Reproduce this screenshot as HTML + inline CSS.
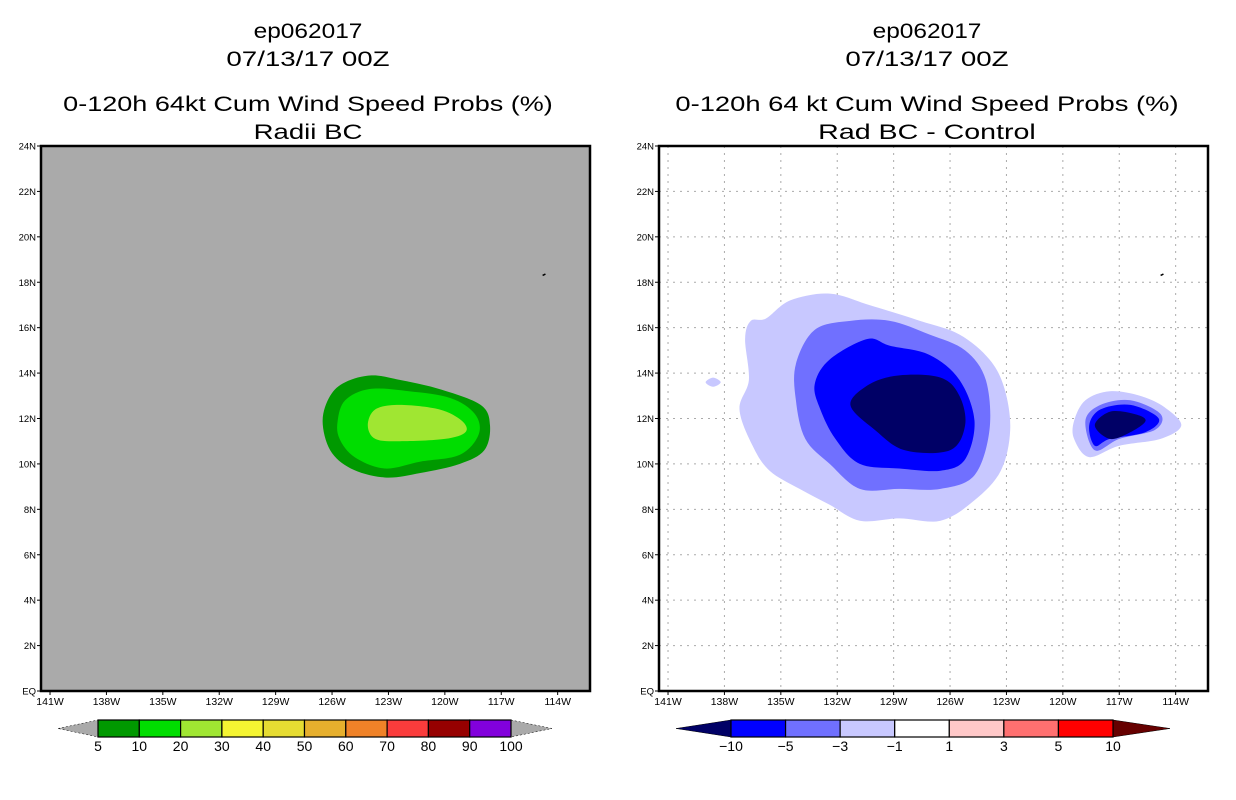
<!DOCTYPE html>
<html><head><meta charset="utf-8"><style>
html,body{margin:0;padding:0;background:#fff;}
svg{display:block;font-family:"Liberation Sans",sans-serif;}
</style></head><body>
<svg id="fig" width="1236" height="800" viewBox="0 0 1236 800"></svg>
<script>
// ---- data ----
const lonTicks = [-141,-138,-135,-132,-129,-126,-123,-120,-117,-114];
const latTicks = [0,2,4,6,8,10,12,14,16,18,20,22,24];
const probLevels = ['5','10','20','30','40','50','60','70','80','90','100'];
const probColors = ['#009900','#00dd00','#a0e632','#f5f532','#e6dc32','#e6af2d','#f08228','#fa3c3c','#960000','#8200dc'];
const diffLevels = ['-10','-5','-3','-1','1','3','5','10'];
const diffColors = ['#0000ff','#7070ff','#c8c8ff','#ffffff','#ffc8c8','#ff7070','#ff0000'];
// left contours: [lon,lat]
const leftC5 = [[-126.5,11.9],[-126.1,13.0],[-125.3,13.6],[-123.9,13.9],[-122.4,13.7],[-120.3,13.3],[-118.1,12.6],[-117.6,11.7],[-117.9,10.6],[-119.2,10.0],[-121.3,9.6],[-123.2,9.4],[-125.0,9.8],[-126.1,10.6]];
const leftC10 = [[-125.7,11.9],[-125.3,12.8],[-124.0,13.3],[-121.9,13.2],[-119.7,12.9],[-118.4,12.2],[-118.2,11.3],[-119.2,10.4],[-121.3,10.1],[-123.2,9.8],[-124.8,10.3],[-125.6,11.1]];
const leftC20 = [[-124.1,11.7],[-123.7,12.4],[-122.4,12.6],[-120.3,12.4],[-119.1,11.9],[-118.9,11.4],[-120.0,11.1],[-122.4,11.0],[-123.7,11.1]];
// right contours
const rOuter = [[-136.6,16.3],[-135.8,16.4],[-134.5,17.2],[-132.4,17.5],[-130.3,17.0],[-127.6,16.3],[-125.5,15.7],[-123.9,14.6],[-123.1,13.3],[-122.8,11.5],[-123.3,9.7],[-124.7,8.4],[-126.5,7.5],[-128.7,7.6],[-130.8,7.5],[-132.4,8.2],[-134.0,8.9],[-135.6,9.7],[-136.5,10.8],[-137.2,12.4],[-136.7,13.7],[-136.9,15.5]];
const rTiny = [[-139.0,13.6],[-138.6,13.8],[-138.2,13.6],[-138.6,13.4]];
const rMid = [[-134.2,14.4],[-133.2,15.9],[-131.3,16.3],[-129.2,16.3],[-127.1,15.7],[-125.2,15.0],[-124.1,13.7],[-123.9,11.5],[-124.7,9.5],[-126.5,8.9],[-128.7,8.9],[-130.8,8.9],[-132.4,10.0],[-133.7,11.1],[-134.2,12.8]];
const rBlue = [[-133.2,13.5],[-132.4,14.6],[-130.4,15.5],[-129.2,15.2],[-127.1,14.8],[-125.5,13.7],[-124.7,11.9],[-125.2,10.2],[-126.5,9.7],[-128.7,9.8],[-130.8,10.0],[-132.1,11.1],[-132.9,12.4]];
const rNavy = [[-131.3,12.6],[-130.3,13.5],[-128.7,13.9],[-126.5,13.8],[-125.5,13.0],[-125.2,11.7],[-126.0,10.6],[-128.4,10.6],[-130.0,11.5]];
const sOuter = [[-119.4,11.9],[-118.8,12.8],[-117.5,13.2],[-115.9,13.0],[-114.6,12.5],[-113.7,11.7],[-114.8,11.1],[-117.0,10.8],[-118.6,10.3],[-119.4,11.1]];
const sMid = [[-118.8,11.9],[-118.0,12.6],[-116.4,12.8],[-114.8,12.2],[-115.1,11.5],[-117.0,11.1],[-118.3,10.6]];
const sBlue = [[-118.6,11.7],[-118.0,12.4],[-116.4,12.6],[-114.9,12.0],[-115.6,11.4],[-117.5,11.1],[-118.3,10.8]];
const sNavy = [[-118.3,11.7],[-117.5,12.3],[-116.2,12.2],[-115.6,11.9],[-116.4,11.4],[-117.5,11.1]];

const NS='http://www.w3.org/2000/svg';
const svg=document.getElementById('fig');
function mk(tag,attrs,parent){const e=document.createElementNS(NS,tag);for(const k in attrs)e.setAttribute(k,attrs[k]);(parent||svg).appendChild(e);return e;}
const PW=549, PH=545, PT=146;
const LON0=-141.48, LON1=-112.28;
function xs(left){return lon=>left+(lon-LON0)/(LON1-LON0)*PW;}
function ys(lat){return PT+PH-lat/24*PH;}
function smooth(pts){
  const n=pts.length;let d='M'+pts[0][0]+','+pts[0][1];
  for(let i=0;i<n;i++){const p0=pts[(i-1+n)%n],p1=pts[i],p2=pts[(i+1)%n],p3=pts[(i+2)%n];
    const c1=[p1[0]+(p2[0]-p0[0])/6,p1[1]+(p2[1]-p0[1])/6],c2=[p2[0]-(p3[0]-p1[0])/6,p2[1]-(p3[1]-p1[1])/6];
    d+=' C'+c1[0].toFixed(1)+','+c1[1].toFixed(1)+' '+c2[0].toFixed(1)+','+c2[1].toFixed(1)+' '+p2[0].toFixed(1)+','+p2[1].toFixed(1);}
  return d+'Z';
}
function contour(g,data,X,fill,name){
  const p=mk('path',{d:smooth(data.map(q=>[X(q[0]),ys(q[1])])),fill:fill},g);
  
  
}
function title(cx,lines){
  const ys_=[38,66,111,139];
  lines.forEach((t,i)=>{const e=mk('text',{x:cx,y:ys_[i],'text-anchor':'middle','font-size':21,fill:'#000',textLength:t.length*13.6,lengthAdjust:'spacingAndGlyphs'});e.textContent=t;
    });
}
function panel(left,bg,grid,name){
  const X=xs(left);
  const g=mk('g',{});
  mk('rect',{x:left,y:PT,width:PW,height:PH,fill:bg},g);
  if(grid){
    lonTicks.forEach(l=>mk('line',{x1:X(l),x2:X(l),y1:PT,y2:PT+PH,stroke:'#aaa','stroke-dasharray':'2,5','stroke-width':1},g));
    latTicks.forEach(l=>mk('line',{x1:left,x2:left+PW,y1:ys(l),y2:ys(l),stroke:'#aaa','stroke-dasharray':'2,5','stroke-width':1},g));
  }
  return {g,X};
}
function axes(left,X,g){
  mk('rect',{x:left,y:PT,width:PW,height:PH,fill:'none',stroke:'#000','stroke-width':2.5},g);
  lonTicks.forEach(l=>{mk('line',{x1:X(l),x2:X(l),y1:PT+PH,y2:PT+PH+4,stroke:'#000'},g);
    const t=mk('text',{x:X(l),y:PT+PH+14,'text-anchor':'middle','font-size':10.5},g);t.textContent=(-l)+'W';
    });
  latTicks.forEach(l=>{mk('line',{x1:left-4,x2:left,y1:ys(l),y2:ys(l),stroke:'#000'},g);
    const t=mk('text',{x:left-5,y:ys(l)+3.5,'text-anchor':'end','font-size':9.5},g);t.textContent=l===0?'EQ':l+'N';
    });
  // island
  mk('line',{x1:X(-114.8),x2:X(-114.65),y1:ys(18.3),y2:ys(18.36),stroke:'#000','stroke-width':1.5},g);
}
function colorbar(x0,x1,tl,tr,colors,labels,lcol,rcol,name){
  const g=mk('g',{});
  const y0=720,y1=737,ym=728.5,w=(x1-x0)/colors.length;
  mk('polygon',{points:`${tl},${ym} ${x0},${y0} ${x0},${y1}`,fill:lcol,stroke:'#000','stroke-width':0.5,'stroke-dasharray':lcol=='#aaaaaa'?'2,2':''},g);
  mk('polygon',{points:`${tr},${ym} ${x1},${y0} ${x1},${y1}`,fill:rcol,stroke:'#000','stroke-width':0.5,'stroke-dasharray':rcol=='#aaaaaa'?'2,2':''},g);
  colors.forEach((c,i)=>{const r=mk('rect',{x:x0+i*w,y:y0,width:w,height:y1-y0,fill:c,stroke:'#000','stroke-width':1.2},g);
    });
  labels.forEach((l,i)=>{const t=mk('text',{x:x0+i*w,y:751,'text-anchor':'middle','font-size':14},g);t.textContent=l.replace('-','\u2212');
    });
}
// left panel
title(308,['ep062017','07/13/17 00Z','0-120h 64kt Cum Wind Speed Probs (%)','Radii BC']);
const L=panel(41,'#aaaaaa',false,'left-map');
contour(L.g,leftC5,L.X,probColors[0],'contour-5-10');
contour(L.g,leftC10,L.X,probColors[1],'contour-10-20');
contour(L.g,leftC20,L.X,probColors[2],'contour-20-30');
axes(41,L.X,L.g);
colorbar(98,511,58,552,probColors,probLevels,'#aaaaaa','#aaaaaa','left-colorbar');
// right panel
title(927,['ep062017','07/13/17 00Z','0-120h 64 kt Cum Wind Speed Probs (%)','Rad BC - Control']);
const R=panel(659,'#ffffff',true,'right-map');
contour(R.g,rOuter,R.X,'#c8c8ff','diff-contour-minus1');
contour(R.g,rTiny,R.X,'#c8c8ff','diff-contour-minus1-small');
contour(R.g,rMid,R.X,'#7070ff','diff-contour-minus3');
contour(R.g,rBlue,R.X,'#0000ff','diff-contour-minus5');
contour(R.g,rNavy,R.X,'#000066','diff-contour-minus10');
contour(R.g,sOuter,R.X,'#c8c8ff','diff2-contour-minus1');
contour(R.g,sMid,R.X,'#7070ff','diff2-contour-minus3');
contour(R.g,sBlue,R.X,'#0000ff','diff2-contour-minus5');
contour(R.g,sNavy,R.X,'#000066','diff2-contour-minus10');
axes(659,R.X,R.g);
colorbar(731,1113,676,1170,diffColors,diffLevels,'#000066','#660000','right-colorbar');
</script>
</body></html>
